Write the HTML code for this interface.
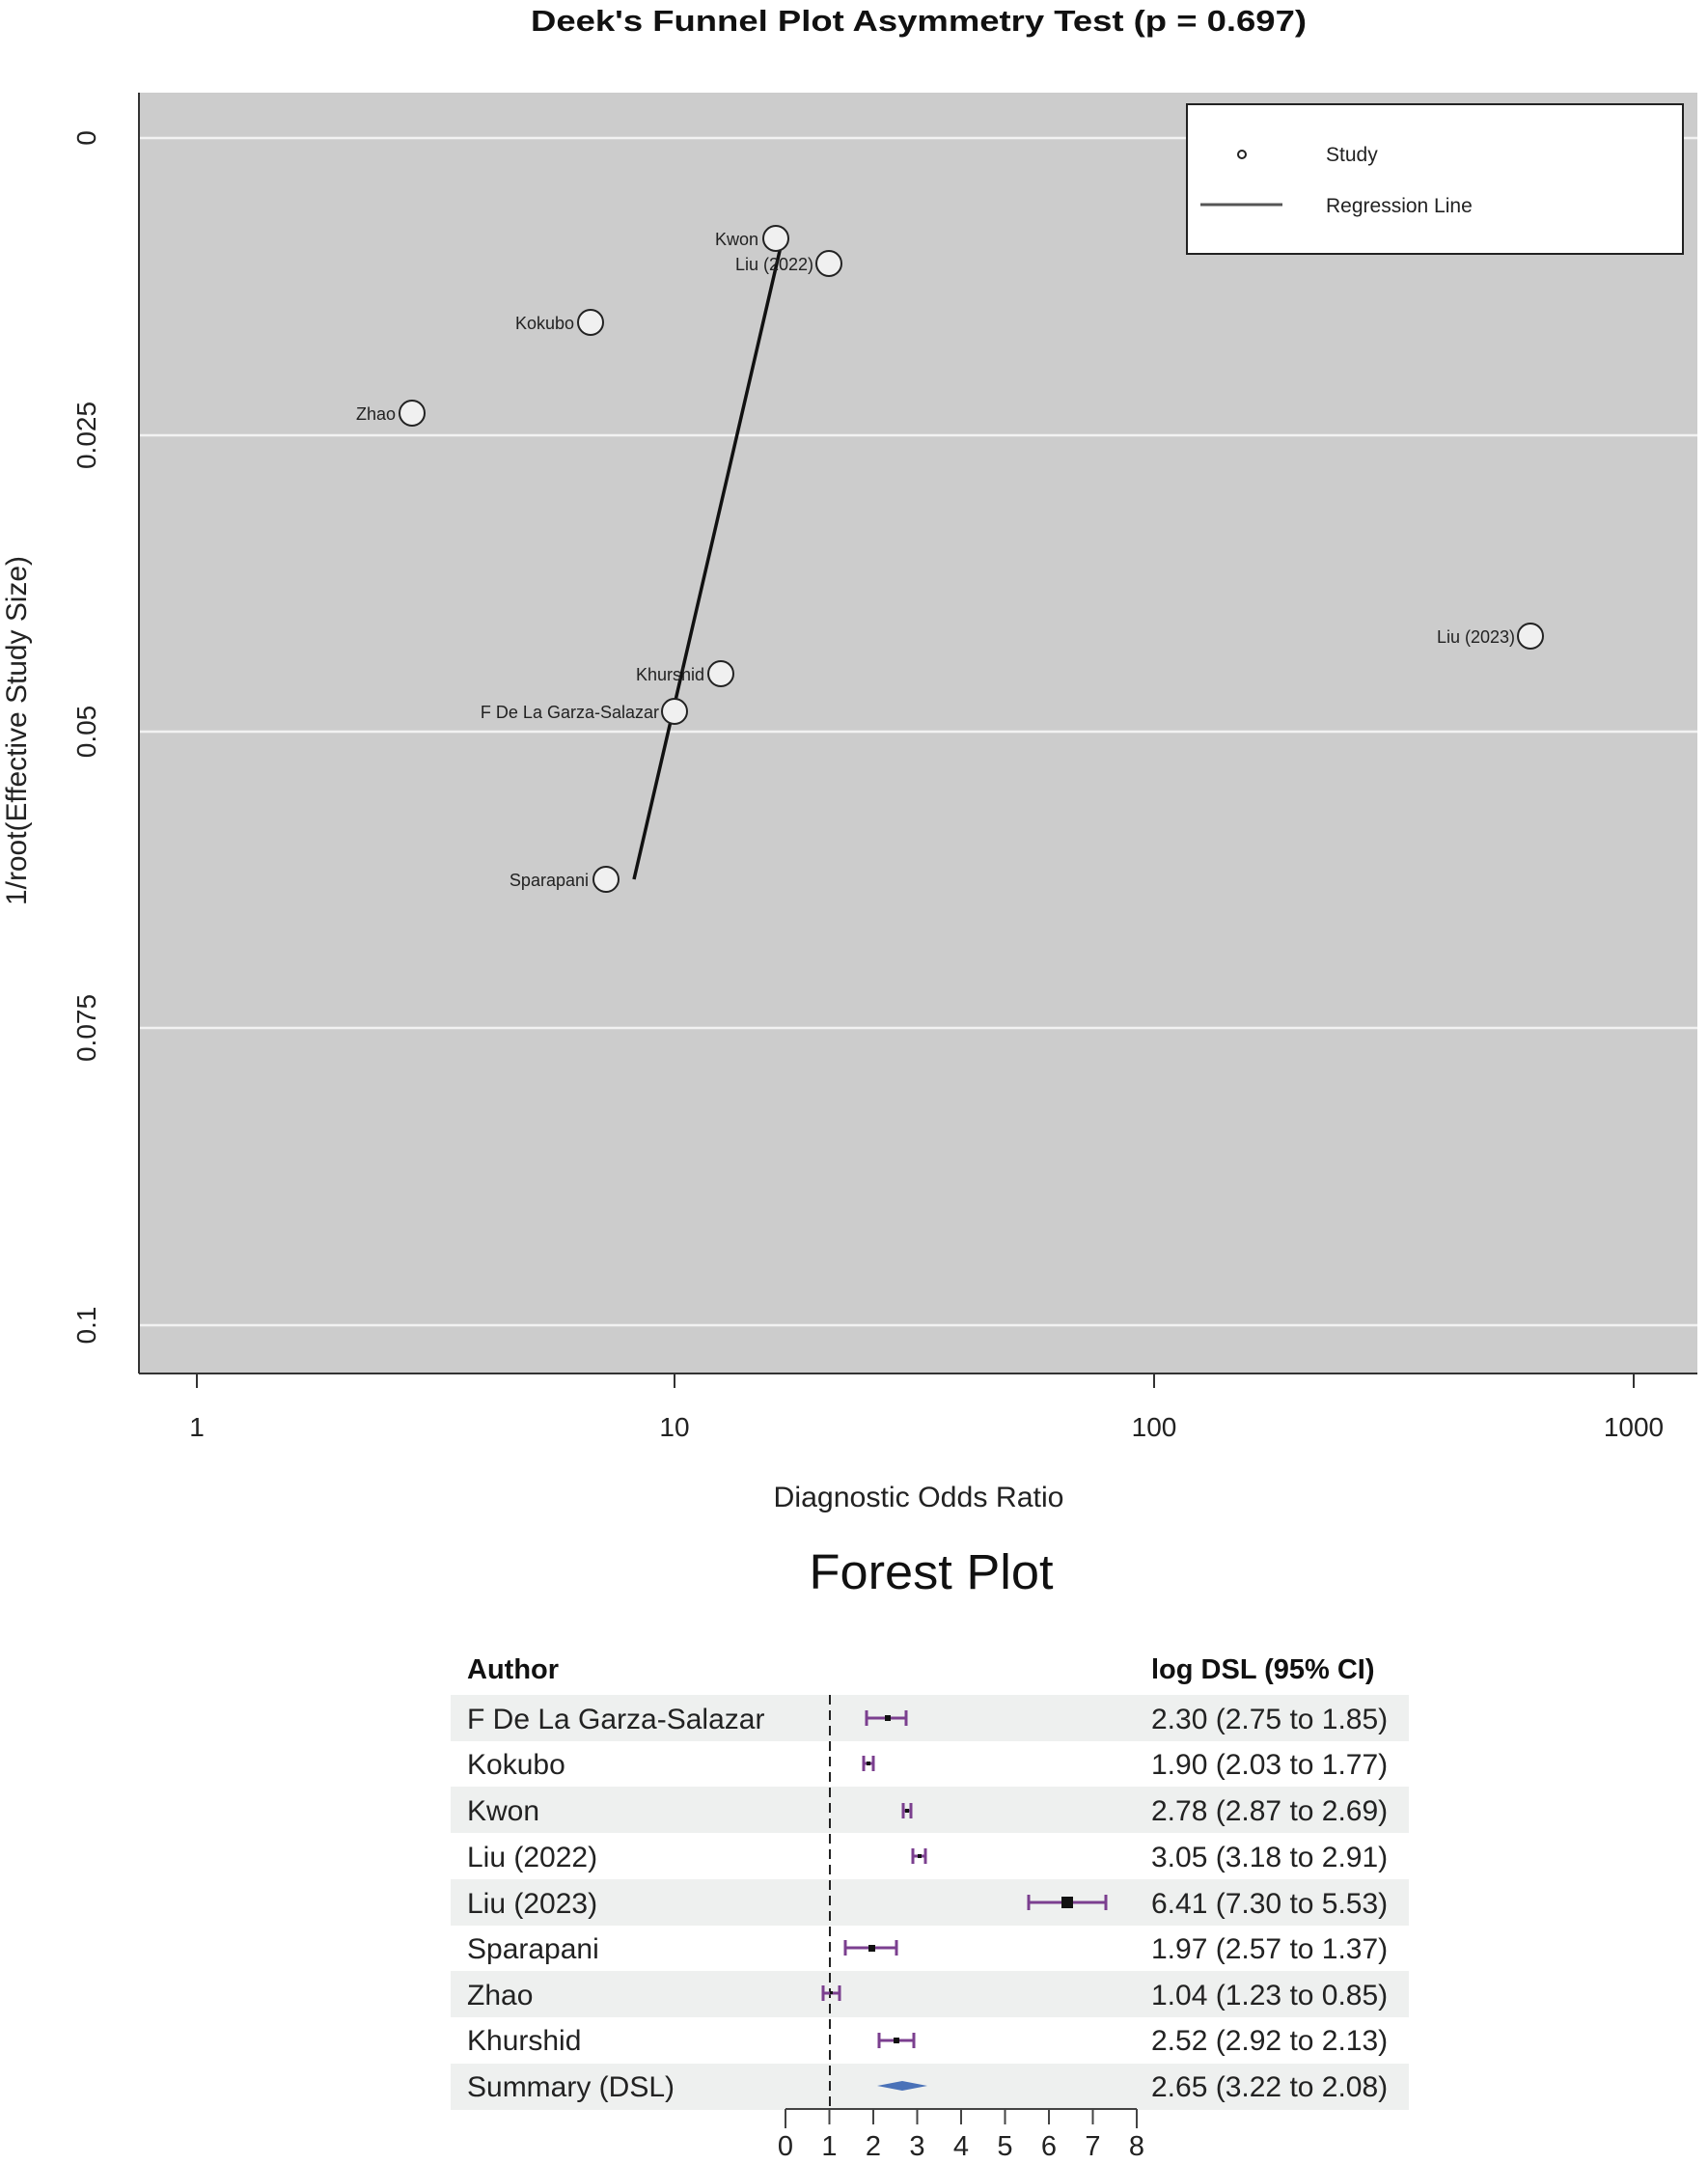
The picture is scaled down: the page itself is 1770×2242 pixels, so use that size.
<!DOCTYPE html>
<html><head><meta charset="utf-8"><style>
html,body{margin:0;padding:0;background:#fff;}
svg{display:block;}
text{font-family:"Liberation Sans",sans-serif;}
.n{font-family:"Liberation Sans Narrow","Liberation Sans",sans-serif;}
</style></head><body>
<svg width="1770" height="2242" viewBox="0 0 1770 2242" xmlns="http://www.w3.org/2000/svg">
<rect width="1770" height="2242" fill="#fff"/>
<text x="952" y="32" font-size="31" font-weight="bold" text-anchor="middle" fill="#111" textLength="804" lengthAdjust="spacingAndGlyphs">Deek's Funnel Plot Asymmetry Test (p = 0.697)</text>
<rect x="144" y="96" width="1615" height="1327" fill="#cccccc"/>
<g stroke="#f2f2f2" stroke-width="2.5">
<line x1="144" y1="143" x2="1759" y2="143"/>
<line x1="144" y1="451" x2="1759" y2="451"/>
<line x1="144" y1="758" x2="1759" y2="758"/>
<line x1="144" y1="1065" x2="1759" y2="1065"/>
<line x1="144" y1="1373" x2="1759" y2="1373"/>
</g>
<line x1="144" y1="96" x2="144" y2="1423" stroke="#333" stroke-width="2"/>
<line x1="144" y1="1423" x2="1759" y2="1423" stroke="#333" stroke-width="2"/>
<g stroke="#333" stroke-width="2">
<line x1="204" y1="1423" x2="204" y2="1438"/><line x1="699" y1="1423" x2="699" y2="1438"/>
<line x1="1196" y1="1423" x2="1196" y2="1438"/><line x1="1693" y1="1423" x2="1693" y2="1438"/>
</g>
<g font-size="28" fill="#222" text-anchor="middle">
<text x="204" y="1488">1</text><text x="699" y="1488">10</text><text x="1196" y="1488">100</text><text x="1693" y="1488">1000</text>
<text x="952" y="1561" font-size="30" textLength="301" lengthAdjust="spacingAndGlyphs">Diagnostic Odds Ratio</text>
</g>
<g font-size="28" fill="#222" text-anchor="middle">
<text transform="translate(99,143) rotate(-90)">0</text>
<text transform="translate(99,451) rotate(-90)">0.025</text>
<text transform="translate(99,758) rotate(-90)">0.05</text>
<text transform="translate(99,1065) rotate(-90)">0.075</text>
<text transform="translate(99,1373) rotate(-90)">0.1</text>
<text transform="translate(27,757) rotate(-90)" font-size="30" textLength="362" lengthAdjust="spacingAndGlyphs">1/root(Effective Study Size)</text>
</g>
<line x1="811" y1="247" x2="657" y2="911" stroke="#111" stroke-width="3.5"/>
<g fill="#f0f0f0" stroke="#222" stroke-width="2">
<circle cx="804" cy="247" r="13"/><circle cx="859" cy="273" r="13"/><circle cx="612" cy="334" r="13"/>
<circle cx="427" cy="428" r="13"/><circle cx="1586" cy="659" r="13"/><circle cx="747" cy="698" r="13"/>
<circle cx="699" cy="737" r="13"/><circle cx="628" cy="911" r="13"/>
</g>
<g font-size="18" fill="#222" text-anchor="end">
<text x="786" y="254">Kwon</text><text x="843" y="280">Liu (2022)</text><text x="595" y="341">Kokubo</text>
<text x="410" y="435">Zhao</text><text x="1570" y="666">Liu (2023)</text><text x="730" y="705">Khurshid</text>
<text x="683" y="744">F De La Garza-Salazar</text><text x="610" y="918">Sparapani</text>
</g>
<rect x="1230" y="108" width="514" height="155" fill="#fff" stroke="#222" stroke-width="2"/>
<circle cx="1287" cy="160" r="4" fill="#fff" stroke="#222" stroke-width="2"/>
<line x1="1244" y1="212" x2="1329" y2="212" stroke="#555" stroke-width="3"/>
<g font-size="21" fill="#222"><text x="1374" y="167">Study</text><text x="1374" y="220">Regression Line</text></g>

<text x="965" y="1646" font-size="51" text-anchor="middle" fill="#111" textLength="253" lengthAdjust="spacingAndGlyphs">Forest Plot</text>
<g font-size="29" fill="#111" font-weight="bold"><text x="484" y="1739">Author</text><text x="1193" y="1739">log DSL (95% CI)</text></g>
<g fill="#eef0ef">
<rect x="467" y="1756" width="993" height="48"/><rect x="467" y="1851" width="993" height="48"/>
<rect x="467" y="1947" width="993" height="48"/><rect x="467" y="2042" width="993" height="48"/>
<rect x="467" y="2138" width="993" height="48"/>
</g>
<g font-size="30" fill="#222" class="n">
<text x="484" y="1791">F De La Garza-Salazar</text><text x="1193" y="1791">2.30 (2.75 to 1.85)</text>
<text x="484" y="1838">Kokubo</text><text x="1193" y="1838">1.90 (2.03 to 1.77)</text>
<text x="484" y="1886">Kwon</text><text x="1193" y="1886">2.78 (2.87 to 2.69)</text>
<text x="484" y="1934">Liu (2022)</text><text x="1193" y="1934">3.05 (3.18 to 2.91)</text>
<text x="484" y="1982">Liu (2023)</text><text x="1193" y="1982">6.41 (7.30 to 5.53)</text>
<text x="484" y="2029">Sparapani</text><text x="1193" y="2029">1.97 (2.57 to 1.37)</text>
<text x="484" y="2077">Zhao</text><text x="1193" y="2077">1.04 (1.23 to 0.85)</text>
<text x="484" y="2124">Khurshid</text><text x="1193" y="2124">2.52 (2.92 to 2.13)</text>
<text x="484" y="2172">Summary (DSL)</text><text x="1193" y="2172">2.65 (3.22 to 2.08)</text>
</g>
<line x1="860" y1="1756" x2="860" y2="2186" stroke="#222" stroke-width="2" stroke-dasharray="10,6"/>
<g stroke="#7b3f8f" stroke-width="3">
<path d="M898 1780H939M898 1772V1788M939 1772V1788"/>
<path d="M895 1827H905M895 1819V1835M905 1819V1835"/>
<path d="M936 1876H944M936 1868V1884M944 1868V1884"/>
<path d="M946 1923H959M946 1915V1931M959 1915V1931"/>
<path d="M1066 1971H1146M1066 1963V1979M1146 1963V1979"/>
<path d="M876 2018H929M876 2010V2026M929 2010V2026"/>
<path d="M853 2065H870M853 2057V2073M870 2057V2073"/>
<path d="M911 2114H947M911 2106V2122M947 2106V2122"/>
</g>
<g fill="#111">
<rect x="917" y="1777" width="6" height="6"/><rect x="898" y="1825" width="4" height="4"/>
<rect x="938" y="1874" width="4" height="4"/><rect x="951" y="1921" width="4" height="4"/>
<rect x="1100" y="1965" width="12" height="12"/><rect x="900" y="2015" width="7" height="7"/>
<rect x="860" y="2063" width="3" height="3"/><rect x="926" y="2111" width="6" height="6"/>
</g>
<polygon points="909,2161 935,2156 961,2161 935,2166" fill="#4a72b8"/>
<line x1="814" y1="2185" x2="1178" y2="2185" stroke="#444" stroke-width="2"/>
<g stroke="#444" stroke-width="2">
<line x1="814" y1="2185" x2="814" y2="2205"/><line x1="859.5" y1="2185" x2="859.5" y2="2201"/>
<line x1="905" y1="2185" x2="905" y2="2201"/><line x1="950.5" y1="2185" x2="950.5" y2="2201"/>
<line x1="996" y1="2185" x2="996" y2="2201"/><line x1="1041.5" y1="2185" x2="1041.5" y2="2201"/>
<line x1="1087" y1="2185" x2="1087" y2="2201"/><line x1="1132.5" y1="2185" x2="1132.5" y2="2201"/>
<line x1="1178" y1="2185" x2="1178" y2="2205"/>
</g>
<g font-size="29" fill="#222" text-anchor="middle" class="n">
<text x="814" y="2233">0</text><text x="859.5" y="2233">1</text><text x="905" y="2233">2</text>
<text x="950.5" y="2233">3</text><text x="996" y="2233">4</text><text x="1041.5" y="2233">5</text>
<text x="1087" y="2233">6</text><text x="1132.5" y="2233">7</text><text x="1178" y="2233">8</text>
</g>
</svg>
</body></html>
